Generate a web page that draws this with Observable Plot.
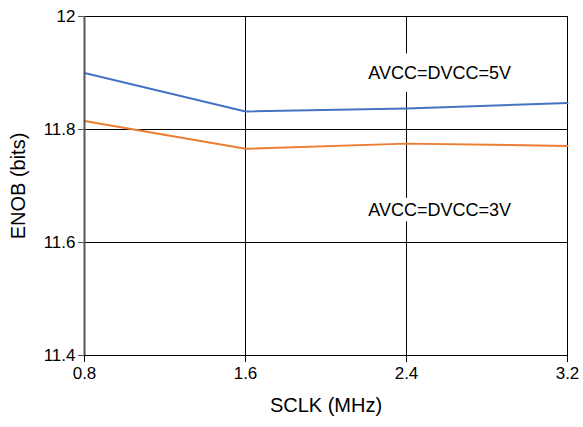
<!DOCTYPE html>
<html>
<head>
<meta charset="utf-8">
<script src="https://cdn.jsdelivr.net/npm/d3@7"></script>
<script src="https://cdn.jsdelivr.net/npm/@observablehq/plot@0.6"></script>
<style>
  html, body { margin: 0; padding: 0; background: #fff; }
  svg { font-family: "Liberation Sans", Arial, sans-serif; }
</style>
</head>
<body>
<div id="chart"></div>
<script>
const sclk = [0.8, 1.6, 2.4, 3.2];
const enob5V = [11.9, 11.832, 11.837, 11.847];
const enob3V = [11.815, 11.766, 11.775, 11.771];
const xTicks = [0.8, 1.6, 2.4, 3.2];
const yTicks = [11.4, 11.6, 11.8, 12];
const seriesNames = ["AVCC=DVCC=5V", "AVCC=DVCC=3V"];
const labelX = [2.565, 2.565];
const labelY = [11.9, 11.657];
const xTitle = "SCLK (MHz)";
const yTitle = "ENOB (bits)";

const rows5 = sclk.map((x, i) => ({x, y: enob5V[i]}));
const rows3 = sclk.map((x, i) => ({x, y: enob3V[i]}));
const lab5 = [{x: labelX[0], y: labelY[0], t: seriesNames[0]}];
const lab3 = [{x: labelX[1], y: labelY[1], t: seriesNames[1]}];

const chart = Plot.plot({
  width: 583,
  height: 427,
  marginLeft: 84,
  marginRight: 16,
  marginTop: 16,
  marginBottom: 72,
  style: {fontFamily: '"Liberation Sans", Arial, sans-serif', color: "#000", background: "#fff"},
  x: {domain: [0.8, 3.2]},
  y: {domain: [11.4, 12]},
  marks: [
    Plot.ruleX(xTicks.slice(1, 3), {stroke: "#000", strokeWidth: 1}),
    Plot.ruleY(yTicks.slice(1, 3), {stroke: "#000", strokeWidth: 1}),
    Plot.ruleY([yTicks[3]], {stroke: "#000", strokeWidth: 1}),
    Plot.ruleX([xTicks[3]], {stroke: "#000", strokeWidth: 1}),
    Plot.text(lab5, {x: "x", y: "y", text: "t", fontSize: 18, fill: "#000", stroke: "#fff", strokeWidth: 26, paintOrder: "stroke"}),
    Plot.text(lab3, {x: "x", y: "y", text: "t", fontSize: 18, fill: "#000", stroke: "#fff", strokeWidth: 12, paintOrder: "stroke"}),
    Plot.line(rows5, {x: "x", y: "y", stroke: "#4472C4", strokeWidth: 2}),
    Plot.line(rows3, {x: "x", y: "y", stroke: "#ED7D31", strokeWidth: 2}),
    Plot.ruleY([yTicks[0]], {stroke: "#000", strokeWidth: 1.2}),
    Plot.ruleX([xTicks[0]], {stroke: "#555", strokeWidth: 2}),
    Plot.axisX({ticks: xTicks, tickSize: 7, tickPadding: 4, fontSize: 17, label: null, tickFormat: d => d.toFixed(1), stroke: "#000"}),
    Plot.axisY({ticks: yTicks, tickSize: 6, tickPadding: 3, fontSize: 17, label: null, stroke: "#555", tickFormat: d => d === 12 ? "12" : d.toFixed(1)}),
    Plot.text([xTitle], {frameAnchor: "bottom", dy: 56, fontSize: 20, fill: "#000"}),
    Plot.text([yTitle], {frameAnchor: "left", textAnchor: "middle", dx: -66, rotate: -90, fontSize: 20, fill: "#000"})
  ]
});
document.getElementById("chart").appendChild(chart);
</script>
</body>
</html>
